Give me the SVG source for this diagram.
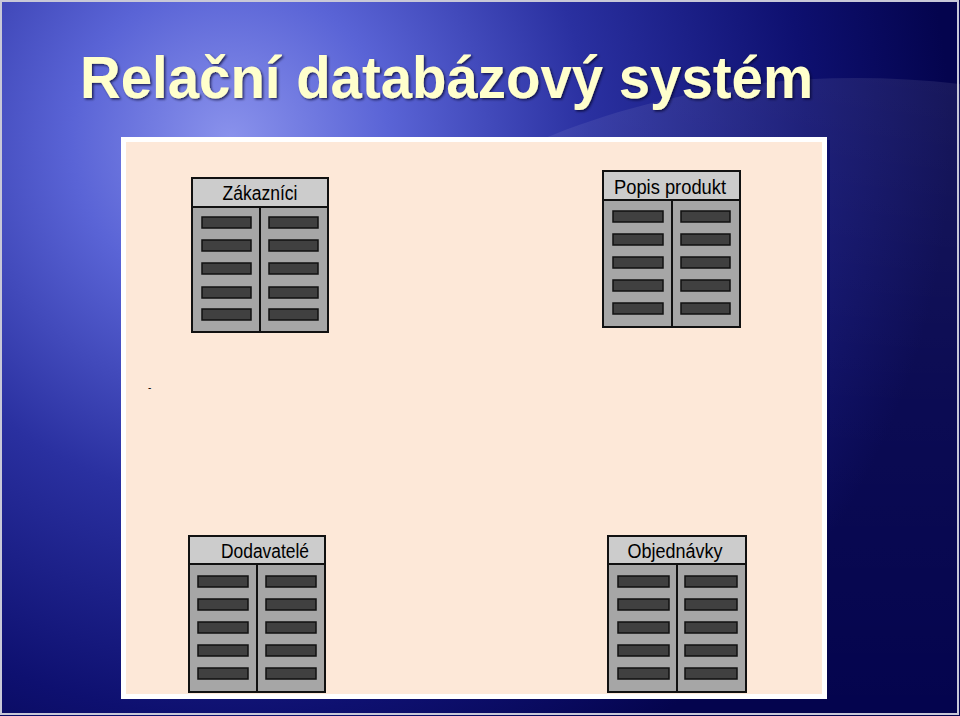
<svg xmlns="http://www.w3.org/2000/svg" width="960" height="716" viewBox="0 0 960 716">
  <defs>
    <radialGradient id="bg" cx="230" cy="140" r="720" gradientUnits="userSpaceOnUse">
      <stop offset="0" stop-color="#8a92ec"/>
      <stop offset="0.22" stop-color="#5a64d6"/>
      <stop offset="0.5" stop-color="#2a30a0"/>
      <stop offset="0.8" stop-color="#0e1070"/>
      <stop offset="1" stop-color="#04044e"/>
    </radialGradient>
    <linearGradient id="wave" x1="0" y1="80" x2="0" y2="716" gradientUnits="userSpaceOnUse">
      <stop offset="0" stop-color="#ffffff" stop-opacity="0.08"/>
      <stop offset="0.5" stop-color="#ffffff" stop-opacity="0.03"/>
      <stop offset="1" stop-color="#ffffff" stop-opacity="0"/>
    </linearGradient>
    <filter id="sh" x="-5%" y="-20%" width="110%" height="140%">
      <feDropShadow dx="1.5" dy="1.5" stdDeviation="1" flood-color="#000020" flood-opacity="0.7"/>
    </filter>
    <style>
      .title{font-family:"Liberation Sans",Arial,sans-serif;font-weight:bold;font-size:60px;fill:#ffffcc}
      .lbl{font-family:"Liberation Sans",Arial,sans-serif;font-size:20px;fill:#000}
      .box{fill:#a6a6a6;stroke:#111;stroke-width:2}
      .hdr{fill:#cccccc;stroke:#111;stroke-width:2}
      .div{stroke:#111;stroke-width:2}
      .bar{fill:#404040;stroke:#111;stroke-width:1.5}
    </style>
  </defs>

  <rect x="0" y="0" width="960" height="716" fill="url(#bg)"/>
  <path d="M 540 140 C 660 90, 800 66, 960 84 L 960 716 L 830 716 L 830 140 Z" fill="url(#wave)"/>
  <rect x="1" y="1" width="957" height="713" fill="none" stroke="#c8c8d8" stroke-width="2"/>

  <text class="title" x="80" y="98" textLength="733" lengthAdjust="spacingAndGlyphs" filter="url(#sh)">Relační databázový systém</text>

  <g id="panel">
    <rect x="123.5" y="139.5" width="701" height="557" fill="#fde8d8" stroke="#ffffff" stroke-width="5"/>
    <text x="148" y="391" font-family="Liberation Sans, Arial, sans-serif" font-size="10" fill="#000">-</text>
  </g>

  <g id="zakaznici">
    <rect class="box" x="192" y="178" width="136" height="154"/>
    <rect class="hdr" x="192" y="178" width="136" height="29"/>
    <line class="div" x1="260" y1="207" x2="260" y2="332"/>
    <text class="lbl" x="260" y="200" text-anchor="middle" textLength="75" lengthAdjust="spacingAndGlyphs">Zákazníci</text>
    <rect class="bar" x="202" y="217" width="49" height="11"/><rect class="bar" x="269" y="217" width="49" height="11"/>
    <rect class="bar" x="202" y="240" width="49" height="11"/><rect class="bar" x="269" y="240" width="49" height="11"/>
    <rect class="bar" x="202" y="263" width="49" height="11"/><rect class="bar" x="269" y="263" width="49" height="11"/>
    <rect class="bar" x="202" y="287" width="49" height="11"/><rect class="bar" x="269" y="287" width="49" height="11"/>
    <rect class="bar" x="202" y="309" width="49" height="11"/><rect class="bar" x="269" y="309" width="49" height="11"/>
  </g>

  <g id="popis">
    <rect class="box" x="603" y="171" width="137" height="156"/>
    <rect class="hdr" x="603" y="171" width="137" height="29"/>
    <line class="div" x1="672" y1="200" x2="672" y2="327"/>
    <text class="lbl" x="670" y="194" text-anchor="middle" textLength="112" lengthAdjust="spacingAndGlyphs">Popis produkt</text>
    <rect class="bar" x="613" y="211" width="50" height="11"/><rect class="bar" x="681" y="211" width="49" height="11"/>
    <rect class="bar" x="613" y="234" width="50" height="11"/><rect class="bar" x="681" y="234" width="49" height="11"/>
    <rect class="bar" x="613" y="257" width="50" height="11"/><rect class="bar" x="681" y="257" width="49" height="11"/>
    <rect class="bar" x="613" y="280" width="50" height="11"/><rect class="bar" x="681" y="280" width="49" height="11"/>
    <rect class="bar" x="613" y="303" width="50" height="11"/><rect class="bar" x="681" y="303" width="49" height="11"/>
  </g>

  <g id="dodavatele">
    <rect class="box" x="189" y="536" width="136" height="156"/>
    <rect class="hdr" x="189" y="536" width="136" height="28"/>
    <line class="div" x1="257" y1="564" x2="257" y2="692"/>
    <text class="lbl" x="265" y="558" text-anchor="middle" textLength="88" lengthAdjust="spacingAndGlyphs">Dodavatelé</text>
    <rect class="bar" x="198" y="576" width="50" height="11"/><rect class="bar" x="266" y="576" width="50" height="11"/>
    <rect class="bar" x="198" y="599" width="50" height="11"/><rect class="bar" x="266" y="599" width="50" height="11"/>
    <rect class="bar" x="198" y="622" width="50" height="11"/><rect class="bar" x="266" y="622" width="50" height="11"/>
    <rect class="bar" x="198" y="645" width="50" height="11"/><rect class="bar" x="266" y="645" width="50" height="11"/>
    <rect class="bar" x="198" y="668" width="50" height="11"/><rect class="bar" x="266" y="668" width="50" height="11"/>
  </g>

  <g id="objednavky">
    <rect class="box" x="608" y="536" width="138" height="156"/>
    <rect class="hdr" x="608" y="536" width="138" height="28"/>
    <line class="div" x1="677" y1="564" x2="677" y2="692"/>
    <text class="lbl" x="675" y="558" text-anchor="middle" textLength="95" lengthAdjust="spacingAndGlyphs">Objednávky</text>
    <rect class="bar" x="618" y="576" width="51" height="11"/><rect class="bar" x="685" y="576" width="52" height="11"/>
    <rect class="bar" x="618" y="599" width="51" height="11"/><rect class="bar" x="685" y="599" width="52" height="11"/>
    <rect class="bar" x="618" y="622" width="51" height="11"/><rect class="bar" x="685" y="622" width="52" height="11"/>
    <rect class="bar" x="618" y="645" width="51" height="11"/><rect class="bar" x="685" y="645" width="52" height="11"/>
    <rect class="bar" x="618" y="668" width="51" height="11"/><rect class="bar" x="685" y="668" width="52" height="11"/>
  </g>
</svg>
